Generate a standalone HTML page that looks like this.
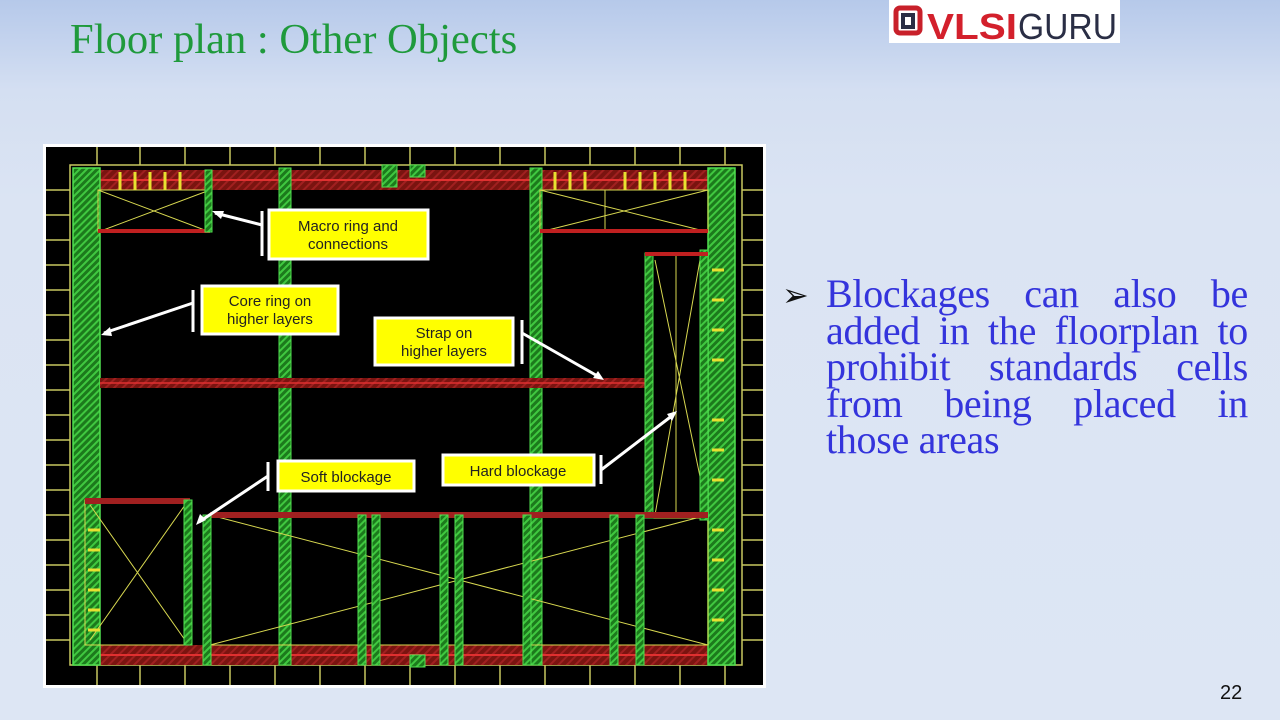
<!DOCTYPE html>
<html><head><meta charset="utf-8"><style>
body{margin:0;width:1280px;height:720px;overflow:hidden;position:relative;background:linear-gradient(#b6c9ea 0px,#d4dff2 90px,#dbe4f3 200px,#dde6f4 720px);font-family:"Liberation Serif",serif}
.title{position:absolute;left:70px;top:15px;font-size:42.6px;color:#1f9a3c;white-space:nowrap}
.logo{position:absolute;left:889px;top:0;width:231px;height:43px;background:#fff}
.txt{position:absolute;left:826px;top:276px;width:422px;font-size:40px;line-height:36.6px;color:#3434dc;letter-spacing:-0.3px}
.txt div{text-align:justify;text-align-last:justify;white-space:nowrap}
.txt div.l{text-align-last:left}
.bul{position:absolute;left:782px;top:277px;font-size:32px;line-height:36px;color:#111}
.num{position:absolute;left:1220px;top:682px;font-family:"Liberation Sans",sans-serif;font-size:20px;color:#111}
</style></head><body>
<div class="title">Floor plan : Other Objects</div>
<div class="logo"><svg width="231" height="43"><rect x="7" y="8" width="24" height="25" rx="4" fill="none" stroke="#c8202a" stroke-width="5"/><rect x="14" y="15" width="10" height="12" fill="none" stroke="#2a2e45" stroke-width="4"/><text x="38" y="39" font-family="Liberation Sans,sans-serif" font-weight="bold" font-size="36" fill="#d3202c" textLength="90" lengthAdjust="spacingAndGlyphs">VLSI</text><text x="129" y="39" font-family="Liberation Sans,sans-serif" font-size="36" fill="#2a2e45" textLength="99" lengthAdjust="spacingAndGlyphs">GURU</text></svg></div>
<svg style="position:absolute;left:0;top:0" width="1280" height="720">
<defs>
<pattern id="hr" width="6" height="6" patternUnits="userSpaceOnUse" patternTransform="rotate(45)"><rect width="6" height="6" fill="#7a1410"/><rect width="2" height="6" fill="#a02020"/></pattern>
<pattern id="hg" width="5" height="5" patternUnits="userSpaceOnUse" patternTransform="rotate(45)"><rect width="5" height="5" fill="#1c7a1c"/><rect width="2" height="5" fill="#40c840"/></pattern>
</defs>
<rect x="43" y="144" width="723" height="544" fill="#fff"/>
<rect x="46" y="147" width="717" height="538" fill="#000"/>
<g stroke="#c8c860" stroke-width="1.5" fill="none">
<rect x="70" y="165" width="672" height="500"/>
<path d="M97 147v18M140 147v18M185 147v18M230 147v18M275 147v18M320 147v18M365 147v18M410 147v18M455 147v18M500 147v18M545 147v18M590 147v18M635 147v18M680 147v18M725 147v18"/>
<path d="M97 665v20M140 665v20M185 665v20M230 665v20M275 665v20M320 665v20M365 665v20M410 665v20M455 665v20M500 665v20M545 665v20M590 665v20M635 665v20M680 665v20M725 665v20"/>
<path d="M46 190h24M46 215h24M46 240h24M46 265h24M46 290h24M46 315h24M46 340h24M46 365h24M46 390h24M46 415h24M46 440h24M46 465h24M46 490h24M46 515h24M46 540h24M46 565h24M46 590h24M46 615h24M46 640h24"/>
<path d="M742 190h21M742 215h21M742 240h21M742 265h21M742 290h21M742 315h21M742 340h21M742 365h21M742 390h21M742 415h21M742 440h21M742 465h21M742 490h21M742 515h21M742 540h21M742 565h21M742 590h21M742 615h21M742 640h21"/>
</g>
<rect x="85" y="170" width="637" height="20" fill="url(#hr)"/>
<line x1="85" y1="180" x2="722" y2="180" stroke="#e03030" stroke-width="2"/>
<rect x="85" y="645" width="637" height="20" fill="url(#hr)"/>
<line x1="85" y1="655" x2="722" y2="655" stroke="#e03030" stroke-width="2"/>
<rect x="73" y="168" width="27" height="497" fill="url(#hg)" stroke="#50e050" stroke-width="1.5"/>
<rect x="708" y="168" width="27" height="497" fill="url(#hg)" stroke="#50e050" stroke-width="1.5"/>
<rect x="279" y="168" width="12" height="497" fill="url(#hg)" stroke="#50e050"/>
<rect x="530" y="168" width="12" height="497" fill="url(#hg)" stroke="#50e050"/>
<rect x="100" y="378" width="545" height="10" fill="url(#hr)"/>
<line x1="100" y1="383" x2="645" y2="383" stroke="#e03030" stroke-width="1.5"/>
<g stroke="#d8d850" fill="none" stroke-width="1">
<rect x="98" y="190" width="112" height="42"/><path d="M98 190L210 232M98 232L210 190"/>
<rect x="540" y="190" width="168" height="42"/><path d="M540 190L708 232M540 232L708 190M605 190v42"/>
<rect x="645" y="253" width="63" height="265"/><path d="M655 260L708 515M700 260L655 515M676 253v265"/>
<rect x="85" y="500" width="105" height="145"/><path d="M90 505L185 640M90 640L185 505"/>
<rect x="210" y="515" width="498" height="130"/><path d="M210 515L708 645M210 645L708 515"/>
</g>
<rect x="98" y="229" width="112" height="4" fill="#c02020"/>
<rect x="540" y="229" width="168" height="4" fill="#c02020"/>
<rect x="205" y="170" width="7" height="62" fill="url(#hg)" stroke="#50e050"/>
<rect x="700" y="250" width="8" height="270" fill="url(#hg)" stroke="#50e050"/>
<rect x="645" y="253" width="8" height="265" fill="url(#hg)" stroke="#50e050"/>
<rect x="210" y="512" width="498" height="6" fill="#a02020"/>
<rect x="85" y="498" width="105" height="6" fill="#a02020"/>
<rect x="645" y="252" width="63" height="4" fill="#c02020"/>
<g fill="url(#hg)" stroke="#50e050">
<rect x="184" y="500" width="8" height="145"/><rect x="203" y="515" width="8" height="150"/>
<rect x="358" y="515" width="8" height="150"/><rect x="372" y="515" width="8" height="150"/>
<rect x="440" y="515" width="8" height="150"/><rect x="455" y="515" width="8" height="150"/>
<rect x="523" y="515" width="8" height="150"/><rect x="610" y="515" width="8" height="150"/><rect x="636" y="515" width="8" height="150"/>
<rect x="382" y="165" width="15" height="22"/><rect x="410" y="165" width="15" height="12"/><rect x="410" y="655" width="15" height="12"/>
</g>
<g stroke="#e8e030" stroke-width="3">
<path d="M120 172v18M135 172v18M150 172v18M165 172v18M180 172v18M555 172v18M570 172v18M585 172v18M625 172v18M640 172v18M655 172v18M670 172v18M685 172v18"/>
<path d="M88 530h12M88 550h12M88 570h12M88 590h12M88 610h12M88 630h12M712 270h12M712 300h12M712 330h12M712 360h12M712 420h12M712 450h12M712 480h12M712 530h12M712 560h12M712 590h12M712 620h12"/>
</g>
<g font-family="Liberation Sans,sans-serif" font-size="15" fill="#222" text-anchor="middle">
<rect x="269" y="210" width="159" height="49" fill="#ffff00" stroke="#fff" stroke-width="3"/>
<text x="348" y="231">Macro ring and</text><text x="348" y="249">connections</text>
<rect x="202" y="286" width="136" height="48" fill="#ffff00" stroke="#fff" stroke-width="3"/>
<text x="270" y="306">Core ring on</text><text x="270" y="324">higher layers</text>
<rect x="375" y="318" width="138" height="47" fill="#ffff00" stroke="#fff" stroke-width="3"/>
<text x="444" y="338">Strap on</text><text x="444" y="356">higher layers</text>
<rect x="278" y="461" width="136" height="30" fill="#ffff00" stroke="#fff" stroke-width="3"/>
<text x="346" y="482">Soft blockage</text>
<rect x="443" y="455" width="151" height="30" fill="#ffff00" stroke="#fff" stroke-width="3"/>
<text x="518" y="476">Hard blockage</text>
</g>
<g stroke="#fff" stroke-width="3" fill="none">
<path d="M262 211v45M193 290v42M522 320v44M268 462v29M601 455v29"/>
<path d="M262 225L215 213M193 303L104 333M522 333L601 378M268 476L199 522M601 470L673 415"/>
</g>
<g fill="#fff">
<polygon points="212,211 224,211 221,219"/><polygon points="101,335 110,327 112,336"/>
<polygon points="604,380 593,378 598,371"/><polygon points="196,525 200,514 206,520"/><polygon points="677,411 672,421 667,414"/>
</g>
</svg>
<div class="bul">➢</div>
<div class="txt"><div>Blockages can also be</div><div>added in the floorplan to</div><div>prohibit standards cells</div><div>from being placed in</div><div class="l">those areas</div></div>
<div class="num">22</div>
</body></html>
